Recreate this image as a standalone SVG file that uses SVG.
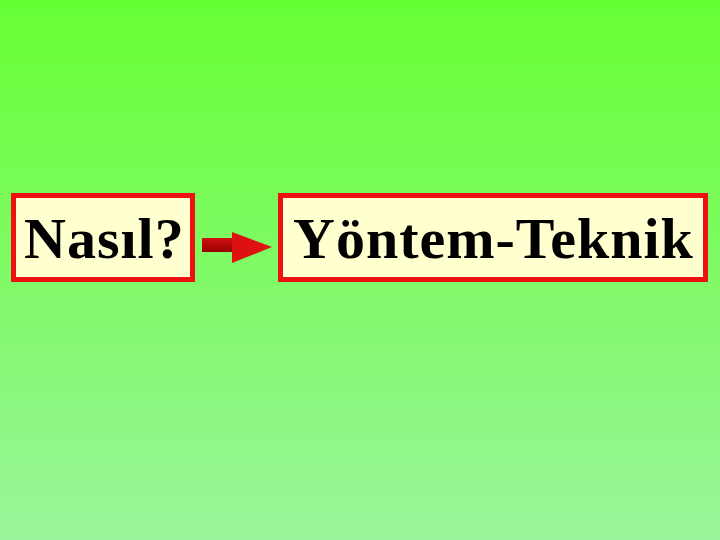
<svg xmlns="http://www.w3.org/2000/svg" width="720" height="540" viewBox="0 0 720 540">
<defs>
<linearGradient id="bg" x1="0" y1="0" x2="0" y2="1">
<stop offset="0" stop-color="#66ff33"/>
<stop offset="1" stop-color="#99f59a"/>
</linearGradient>
<linearGradient id="shaft" x1="0" y1="0" x2="0" y2="1">
<stop offset="0" stop-color="#d01010"/>
<stop offset="1" stop-color="#990000"/>
</linearGradient>
<style>
.box{fill:#ffffd0;stroke:#ee1111;stroke-width:5}
.lbl{font-family:"Liberation Serif","Times New Roman",serif;font-weight:bold;font-size:58px;letter-spacing:1px;fill:#000}
</style>
</defs>
<rect width="720" height="540" fill="url(#bg)"/>
<g id="node-nasil">
<rect class="box" x="13.5" y="195.5" width="179" height="84"/>
<text class="lbl" x="24" y="258">Nasıl?</text>
</g>
<g id="node-yontem">
<rect class="box" x="280.5" y="195.5" width="425" height="84"/>
<text class="lbl" x="293" y="258">Yöntem-Teknik</text>
</g>
<g id="connectors">
<rect x="202" y="238" width="32" height="14" fill="url(#shaft)"/>
<polygon points="232,232 272,247 232,263" fill="#dd1111"/>
</g>
</svg>
